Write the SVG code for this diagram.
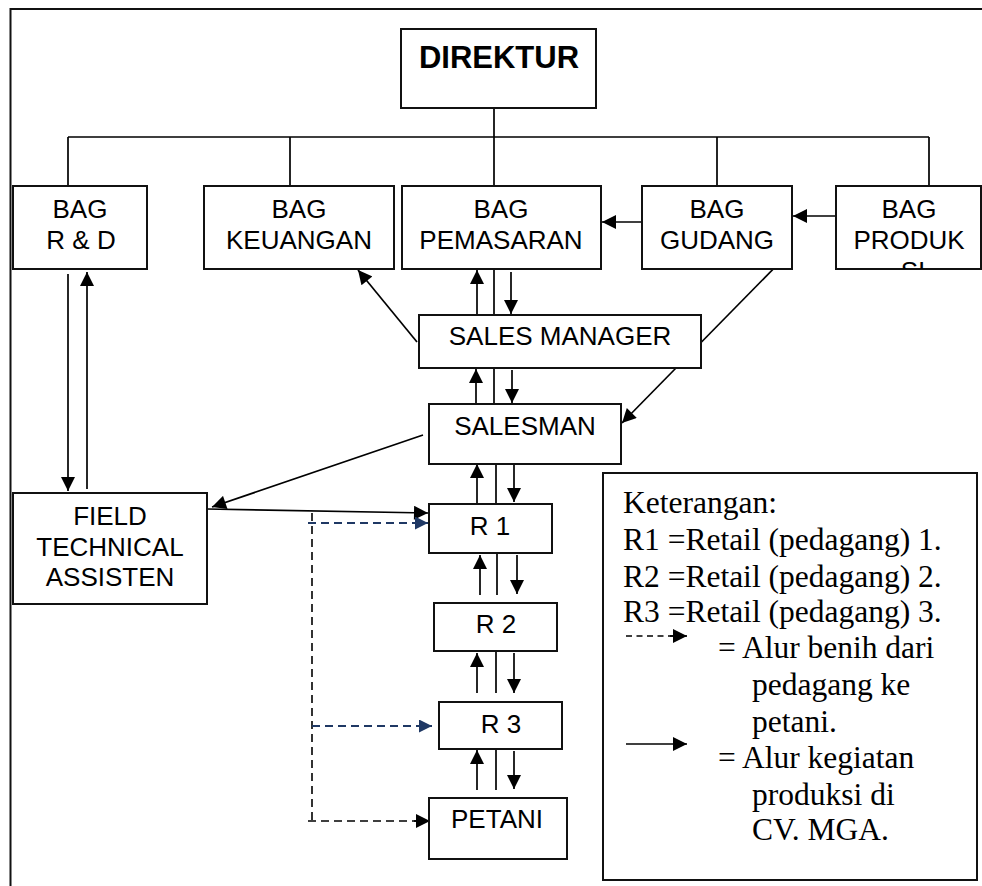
<svg xmlns="http://www.w3.org/2000/svg" width="982" height="886" viewBox="0 0 982 886">
<style>
.box{fill:#fff;stroke:#111;stroke-width:2}
.t{font-family:"Liberation Sans",Arial,sans-serif;font-size:26px;fill:#000;text-anchor:middle}
.tb{font-family:"Liberation Sans",Arial,sans-serif;font-size:31px;font-weight:bold;fill:#000;text-anchor:middle}
.lg{font-family:"Liberation Serif","Times New Roman",serif;font-size:31.5px;fill:#000}
.ln{stroke:#000;stroke-width:1.7;fill:none}
.ar{stroke:#000;stroke-width:1.7;fill:none;marker-end:url(#ah)}
.db{stroke:#1F3864;stroke-width:1.8;fill:none;stroke-dasharray:8,5;marker-end:url(#ahb)}
.dk{stroke:#000;stroke-width:1.6;fill:none;stroke-dasharray:8,5}
</style>
<defs>
<marker id="ah" viewBox="0 0 10 10" refX="10" refY="5" markerWidth="16" markerHeight="14" markerUnits="userSpaceOnUse" orient="auto"><path d="M0,0 L10,5 L0,10 z" fill="#000"/></marker>
<marker id="ahb" viewBox="0 0 10 10" refX="10" refY="5" markerWidth="15" markerHeight="13" markerUnits="userSpaceOnUse" orient="auto"><path d="M0,0 L10,5 L0,10 z" fill="#1F3864"/></marker>
<clipPath id="cp"><rect x="836" y="186" width="145" height="83"/></clipPath>
</defs>

<g id="frame"><path d="M10.5,886 V9 H982" stroke="#111" stroke-width="2" fill="none"/></g>

<g id="connectors">
<path class="ln" d="M494,108 V137 M68,137 H929 M68,137 V186 M290,137 V186 M494,137 V186 M717,137 V186 M929,137 V186"/>
<line class="ar" x1="642" y1="222" x2="602" y2="222"/>
<line class="ar" x1="836" y1="216" x2="793" y2="216"/>
<line class="ar" x1="417" y1="342" x2="358" y2="270"/>
<line class="ar" x1="477" y1="315" x2="477" y2="270"/>
<line class="ln" x1="494" y1="269" x2="494" y2="315"/>
<line class="ar" x1="511" y1="272" x2="511" y2="314"/>
<line class="ar" x1="476" y1="404" x2="476" y2="369"/>
<line class="ln" x1="494" y1="368" x2="494" y2="404"/>
<line class="ar" x1="512" y1="370" x2="512" y2="403"/>
<line class="ar" x1="786" y1="256" x2="622" y2="423"/>
<line class="ar" x1="423" y1="435" x2="212" y2="507"/>
<line class="ar" x1="68" y1="274" x2="68" y2="491"/>
<line class="ar" x1="87" y1="489" x2="87" y2="272"/>
<line class="ar" x1="207" y1="509" x2="428" y2="513"/>
<line class="ar" x1="477" y1="504" x2="477" y2="464"/>
<line class="ln" x1="496" y1="463" x2="496" y2="503"/>
<line class="ar" x1="514" y1="465" x2="514" y2="502"/>
<line class="ar" x1="480" y1="595" x2="480" y2="555"/>
<line class="ln" x1="497" y1="554" x2="497" y2="595"/>
<line class="ar" x1="517" y1="555" x2="517" y2="594"/>
<line class="ar" x1="477" y1="693" x2="477" y2="653"/>
<line class="ln" x1="496" y1="652" x2="496" y2="693"/>
<line class="ar" x1="514" y1="653" x2="514" y2="693"/>
<line class="ar" x1="477" y1="790" x2="477" y2="750"/>
<line class="ln" x1="496" y1="750" x2="496" y2="790"/>
<line class="ar" x1="514" y1="751" x2="514" y2="789"/>
<line class="dk" x1="312" y1="513" x2="312" y2="821"/>
<line class="db" x1="308" y1="523" x2="428" y2="523"/>
<line class="db" x1="312" y1="726" x2="432" y2="726"/>
<line class="dk" x1="308" y1="821" x2="416" y2="821"/>
<line class="ar" x1="414" y1="821" x2="430" y2="821"/>
</g>

<g id="direktur"><rect class="box" x="401" y="29" width="195" height="79"/><text class="tb" x="499" y="68">DIREKTUR</text></g>
<g id="bag-rd"><rect class="box" x="13" y="186" width="134" height="83"/><text class="t" x="80" y="218">BAG</text><text class="t" x="81" y="249">R &amp; D</text></g>
<g id="bag-keuangan"><rect class="box" x="204" y="186" width="190" height="83"/><text class="t" x="299" y="218">BAG</text><text class="t" x="299" y="249">KEUANGAN</text></g>
<g id="bag-pemasaran"><rect class="box" x="402" y="186" width="199" height="83"/><text class="t" x="501" y="218">BAG</text><text class="t" x="501" y="249">PEMASARAN</text></g>
<g id="bag-gudang"><rect class="box" x="642" y="186" width="150" height="83"/><text class="t" x="717" y="218">BAG</text><text class="t" x="717" y="249">GUDANG</text></g>
<g id="bag-produksi"><rect class="box" x="836" y="186" width="145" height="83"/><text class="t" x="909" y="218">BAG</text><text class="t" x="909" y="249">PRODUK</text><text class="t" x="913" y="280" clip-path="url(#cp)">SI</text></g>
<g id="sales-manager"><rect class="box" x="419" y="315" width="282" height="53"/><text class="t" x="560" y="345">SALES MANAGER</text></g>
<g id="salesman"><rect class="box" x="429" y="404" width="192" height="60"/><text class="t" x="525" y="435">SALESMAN</text></g>
<g id="field"><rect class="box" x="13" y="493" width="194" height="111"/><text class="t" x="110" y="525">FIELD</text><text class="t" x="110" y="556">TECHNICAL</text><text class="t" x="110" y="586">ASSISTEN</text></g>
<g id="r1"><rect class="box" x="429" y="504" width="123" height="49"/><text class="t" x="490" y="535">R 1</text></g>
<g id="r2"><rect class="box" x="434" y="603" width="123" height="48"/><text class="t" x="496" y="633">R 2</text></g>
<g id="r3"><rect class="box" x="439" y="702" width="123" height="47"/><text class="t" x="501" y="733">R 3</text></g>
<g id="petani"><rect class="box" x="429" y="798" width="138" height="61"/><text class="t" x="497" y="828">PETANI</text></g>

<g id="legend">
<rect class="box" x="603" y="473" width="374" height="407"/>
<text class="lg" x="623" y="513">Keterangan:</text>
<text class="lg" x="623" y="550">R1 =Retail (pedagang) 1.</text>
<text class="lg" x="623" y="587">R2 =Retail (pedagang) 2.</text>
<text class="lg" x="623" y="622">R3 =Retail (pedagang) 3.</text>
<line x1="626" y1="636" x2="674" y2="636" stroke="#000" stroke-width="1.5" stroke-dasharray="6,4.5"/>
<line class="ar" x1="670" y1="636" x2="687" y2="636"/>
<text class="lg" x="718" y="658">= Alur benih dari</text>
<text class="lg" x="752" y="695">pedagang ke</text>
<text class="lg" x="752" y="732">petani.</text>
<line class="ar" x1="626" y1="744" x2="687" y2="744"/>
<text class="lg" x="718" y="768">= Alur kegiatan</text>
<text class="lg" x="752" y="805">produksi di</text>
<text class="lg" x="752" y="840">CV. MGA.</text>
</g>
</svg>
